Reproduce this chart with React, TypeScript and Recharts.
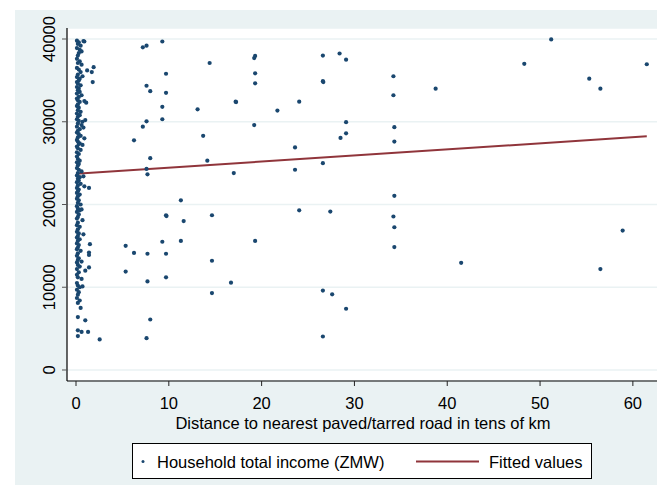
import { CartesianGrid, ComposedChart, Line, Scatter, XAxis, YAxis } from 'recharts';

const FONT = '"Liberation Sans", Arial, sans-serif';
const NAVY = '#1A476F';
const MAROON = '#90353B';
const BG = '#EAF2F3';

// households right next to a paved road (distance ~0-1.3)
const nearRoad: [number, number][] = [
  [0.1, 39800], [0.3, 39600], [0.9, 39700], [0.8, 39750], [0.2, 39400], [0.5, 39200], [0.1, 38900],
  [0.4, 38700], [0.3, 38300], [0.6, 38500], [0.2, 38000], [0.1, 37600], [0.4, 37300], [0.2, 37100],
  [0.6, 36900], [0.1, 36500], [0.3, 36300], [1.2, 36200], [0.5, 36000], [0.2, 35700], [0.1, 35400],
  [0.4, 35200], [0.7, 35500], [0.3, 35000], [0.1, 34800], [0.2, 34600], [0.5, 34400], [0.1, 34200],
  [0.3, 34000], [0.2, 33800], [0.4, 33600], [0.1, 33400], [0.6, 33200], [0.3, 33000], [0.1, 32800],
  [0.2, 32600], [0.9, 32500], [1.1, 32300], [0.4, 32400], [0.2, 32100], [0.1, 31900], [0.3, 31700],
  [0.2, 31400], [0.5, 31200], [0.1, 31000], [0.4, 30800], [0.2, 30600], [0.1, 30300], [1.0, 30200],
  [0.7, 30000], [0.3, 30100], [0.2, 29800], [0.6, 29600], [0.1, 29400], [0.8, 29300], [0.4, 29100],
  [0.2, 28900], [0.1, 28700], [0.3, 28500], [0.5, 28300], [0.2, 28100], [0.9, 28000], [0.1, 27800],
  [0.2, 27600], [0.4, 27400], [0.7, 27200], [0.1, 27000], [0.3, 27300], [0.2, 26800], [0.5, 26600],
  [0.1, 26300], [0.3, 26100], [0.1, 25800], [0.2, 25500], [0.4, 25300], [0.1, 25100], [0.3, 24900],
  [0.2, 24700], [0.1, 24400], [0.3, 24200], [0.6, 24000], [0.2, 23800], [0.1, 23500], [0.4, 23300],
  [0.2, 23100], [0.8, 23400], [0.3, 22900], [0.1, 22700], [0.5, 22500], [0.2, 22300], [0.1, 22000],
  [0.9, 22200], [0.3, 21800], [0.2, 21600], [0.1, 21400], [0.4, 21200], [0.2, 21000], [0.1, 20700],
  [0.3, 20500], [0.2, 20200], [0.5, 20000], [0.1, 19800], [0.2, 19500], [0.4, 19300], [0.1, 19100],
  [0.6, 19400], [0.3, 18800], [0.2, 18500], [0.1, 18300], [0.7, 18100], [0.2, 17800], [0.1, 17500],
  [0.4, 17300], [0.2, 17000], [0.1, 16700], [0.3, 16500], [0.8, 16400], [0.2, 16200], [0.1, 16000],
  [0.4, 15800], [0.2, 15600], [0.1, 15300], [0.3, 15100], [0.2, 14800], [0.1, 14600], [0.5, 14400],
  [0.2, 14100], [0.1, 13800], [0.3, 13500], [0.2, 13300], [0.6, 13100], [0.1, 13000], [0.2, 12700],
  [0.4, 12500], [0.1, 12200], [1.0, 12000], [0.3, 11800], [0.1, 11500], [0.2, 11200], [0.6, 11000],
  [0.1, 10500], [0.2, 10200], [0.4, 10000], [0.7, 10100], [0.1, 9700], [0.3, 9400], [0.2, 9100],
  [0.1, 8700], [0.4, 8400], [0.2, 8100], [0.5, 7500], [0.2, 6400], [1.0, 6000], [0.2, 4800],
  [0.6, 4600], [1.3, 4600], [0.2, 4100],
];

// households further out
const farFromRoad: [number, number][] = [
  [1.9, 36600], [1.7, 36000], [1.8, 34800], [1.4, 22000], [1.5, 15200], [1.4, 14200], [1.4, 13900],
  [1.4, 12400], [2.55, 3700], [7.2, 39000], [7.6, 39200], [9.3, 39700], [14.4, 37100], [9.7, 35800],
  [19.3, 37950], [19.2, 37700], [19.3, 35850], [19.3, 34650], [7.6, 34350], [8.0, 33700], [9.7, 33500],
  [17.2, 32430], [17.25, 32380], [9.3, 31800], [13.1, 31500], [9.3, 30300], [7.6, 30050], [7.2, 29400],
  [19.2, 29600], [6.25, 27750], [13.7, 28300], [8.0, 25600], [14.15, 25300], [7.6, 24300], [7.7, 23650],
  [17.0, 23800], [11.3, 20500], [9.7, 18700], [9.75, 18600], [14.65, 18700], [11.6, 18000], [5.35, 15000],
  [9.3, 15500], [11.3, 15600], [19.3, 15600], [6.25, 14150], [7.7, 14050], [9.7, 14050], [14.65, 13200],
  [5.35, 11900], [9.7, 11200], [7.7, 10700], [16.7, 10550], [14.65, 9300], [8.0, 6100], [7.6, 3850],
  [26.6, 38000], [28.4, 38250], [29.1, 37500], [26.6, 34900], [26.65, 34800], [34.2, 35500], [34.2, 33200],
  [38.75, 34000], [24.05, 32430], [21.7, 31350], [29.1, 29950], [34.3, 29350], [29.1, 28600], [28.5, 28050],
  [34.3, 27600], [23.6, 26900], [26.6, 25000], [23.6, 24200], [34.3, 21050], [24.05, 19300], [27.4, 19150],
  [34.2, 18550], [34.3, 17250], [34.3, 14850], [26.6, 9600], [27.6, 9150], [29.1, 7400], [26.6, 4050],
  [51.2, 39950], [48.3, 37000], [61.5, 36950], [55.3, 35200], [56.5, 34000], [41.5, 12950], [56.5, 12200],
  [58.9, 16850],
];

// linear fit, evaluated at the ends of the observed distance range
const fittedX = [0, 61.5];
const fittedY = [23720, 28240];

const xTicks = [0, 10, 20, 30, 40, 50, 60];
const yTicks = [0, 10000, 20000, 30000, 40000];

const scatterData = [...nearRoad, ...farFromRoad].map(([x, y]) => ({ x, y }));
const fittedData = fittedX.map((x, i) => ({ x, y: fittedY[i] }));

const Dot = (props: any) => <circle cx={props.cx} cy={props.cy} r={2.1} fill={NAVY} />;

const XTick = ({ x, y, payload }: any) => (
  <text x={x} y={y + 21} textAnchor="middle" fontFamily={FONT} fontSize={16.5} fill="#000">
    {payload.value}
  </text>
);

const YTick = ({ y, payload }: any) => (
  <text
    x={40}
    y={y}
    transform={`rotate(-90 40 ${y})`}
    textAnchor="middle"
    fontFamily={FONT}
    fontSize={16.5}
    fill="#000"
  >
    {payload.value}
  </text>
);

const LegendBox = () => (
  <svg width={460} height={36} style={{ display: 'block' }}>
    <rect x={0.5} y={0.5} width={459} height={35} fill="#fff" stroke="#000" strokeWidth={1} />
    <circle cx={11} cy={18.5} r={1.5} fill={NAVY} />
    <text x={25} y={24.5} fontFamily={FONT} fontSize={16.5} fill="#000">
      Household total income (ZMW)
    </text>
    <line x1={284} x2={347} y1={18.5} y2={18.5} stroke={MAROON} strokeWidth={2} />
    <text x={357} y={24.5} fontFamily={FONT} fontSize={16.5} fill="#000">
      Fitted values
    </text>
  </svg>
);

export default function App() {
  return (
    <div style={{ position: 'absolute', left: 0, top: 0, width: 657, height: 485, background: '#fff', overflow: 'hidden' }}>
      <div style={{ position: 'absolute', left: 15, top: 10, width: 642, height: 475, background: BG }}>
        <ComposedChart width={642} height={475} margin={{ top: 18, right: 0, bottom: 0, left: 0 }}>
          <CartesianGrid horizontal vertical={false} fill="#fff" stroke={BG} strokeWidth={1.5} />
          <XAxis
            dataKey="x"
            type="number"
            domain={[-0.97, 62.6]}
            ticks={xTicks}
            tick={<XTick />}
            tickSize={5}
            height={104}
            axisLine={{ stroke: '#000', strokeWidth: 1.2 }}
            tickLine={{ stroke: '#222' }}
            allowDataOverflow
            label={({ viewBox }: any) => (
              <text
                x={viewBox.x + 296}
                y={viewBox.y + 48}
                textAnchor="middle"
                fontFamily={FONT}
                fontSize={16.5}
                fill="#000"
              >
                Distance to nearest paved/tarred road in tens of km
              </text>
            )}
          />
          <YAxis
            dataKey="y"
            type="number"
            domain={[-1330, 41330]}
            ticks={yTicks}
            tick={<YTick />}
            tickSize={5}
            width={52}
            axisLine={{ stroke: '#000', strokeWidth: 1.2 }}
            tickLine={{ stroke: '#555' }}
            allowDataOverflow
          />
          <Scatter data={scatterData} shape={<Dot />} isAnimationActive={false} />
          <Line
            data={fittedData}
            dataKey="y"
            type="linear"
            stroke={MAROON}
            strokeWidth={2}
            dot={false}
            activeDot={false}
            isAnimationActive={false}
          />
        </ComposedChart>
        <div style={{ position: 'absolute', left: 117, top: 433 }}>
          <LegendBox />
        </div>
      </div>
    </div>
  );
}
